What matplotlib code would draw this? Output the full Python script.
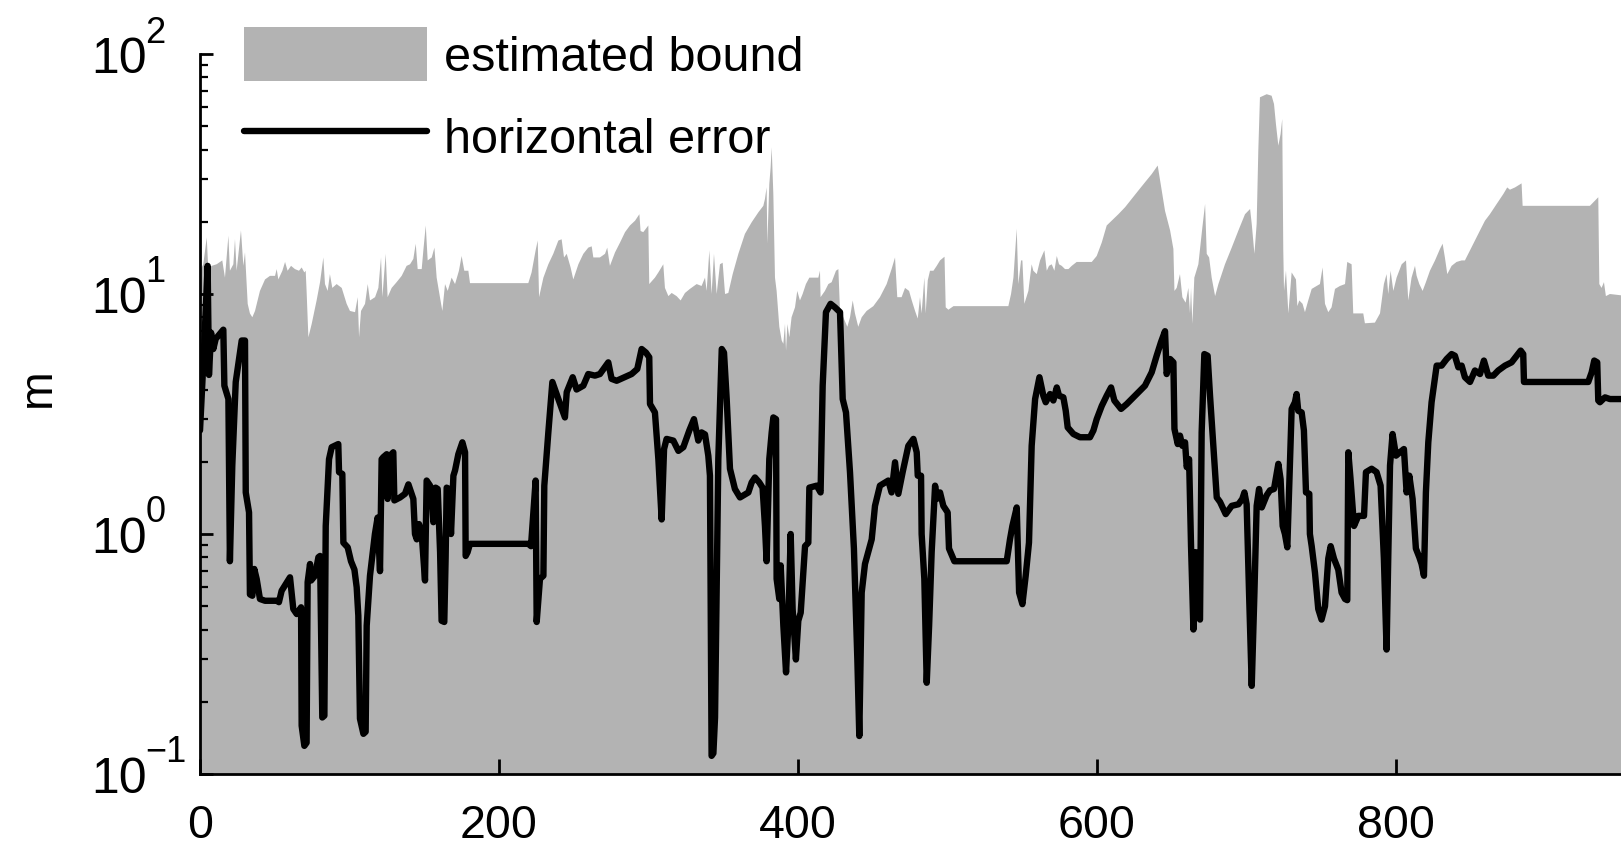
import matplotlib
matplotlib.use("Agg")
import matplotlib.pyplot as plt
from matplotlib.ticker import LogLocator, NullLocator, FixedFormatter, NullFormatter

plt.rcParams["font.family"] = ["Liberation Sans", "DejaVu Sans"]

# estimated error bound (upper edge of the shaded area), metres
bound_x = [0, 2.2, 4.5, 5.6, 7.8, 11.1, 14.9, 16.7, 19, 20, 22.3, 23.4, 24.5, 27.4, 29, 30.1,
           31.9, 33.4, 35, 36.8, 40.1, 43.5, 46.8, 50.2, 51.3, 52.4, 55.1, 56.9, 58.6, 60.9,
           63.5, 66.2, 68, 69.8, 70.7, 71.3, 72.5, 74.7, 78, 80.3, 82.5, 83.6, 85.4, 86.9,
           88.5, 91.4, 94.8, 98.1, 100.3, 103.7, 105.5, 106.4, 107.7, 110.4, 112.2, 113.7,
           117.1, 119.3, 121.1, 122, 124.2, 125.5, 128.2, 131.5, 134.9, 138.2, 140.5, 142.7,
           144.3, 145.6, 148.3, 149.4, 151, 152.3, 155, 156.8, 158.3, 160.5, 162.1, 163.9,
           165.7, 168.3, 170.6, 173.2, 175, 176.8, 179.5, 180.6, 219.6, 221.8, 224.5, 225.9,
           226.8, 229.7, 233, 236.3, 239.7, 241.9, 243.5, 245.3, 247.9, 249.7, 253.1, 256.4,
           259.7, 262, 263.1, 267.5, 270.9, 272.4, 274.2, 277.6, 281, 284.3, 287.6, 291,
           293.9, 294.7, 296.5, 299.9, 300.5, 304.3, 306.6, 309.9, 311, 313.3, 315.5, 318.8,
           321.5, 324.4, 327.7, 332.2, 335.5, 337.8, 338.9, 340.7, 342.2, 343.8, 345.6, 347.8,
           349.6, 351.2, 353.4, 356.3, 360.1, 364.5, 369, 373.5, 376.8, 377.9, 379, 379.5,
           380.8, 381.7, 382.4, 383.5, 384.6, 385.7, 387.5, 389.1, 390.2, 391.3, 392, 392.9,
           394.2, 395.7, 398, 399.5, 401.3, 403.1, 405.3, 407.6, 413.6, 414.7, 415.1, 418,
           420.3, 422.5, 425.4, 427, 428.1, 430.3, 433, 434.8, 436.6, 438.1, 440.3, 442.6,
           445.9, 450.4, 454.8, 459.3, 462.6, 464.9, 466.4, 469.3, 471.6, 474.3, 476.1, 478.3,
           480.1, 481.6, 482.7, 484.5, 485.4, 486.8, 488.3, 490.6, 492.8, 495, 498, 498.8,
           500.6, 504, 540.7, 542.5, 544.1, 546.3, 547.4, 549.2, 550.1, 551.4, 554.1, 556.3,
           557.4, 559.7, 561.9, 564.8, 566.4, 567.9, 569.7, 571.5, 573.1, 574.6, 576.4, 578.6,
           580.9, 583.1, 586.4, 596.5, 599.8, 603.2, 606.5, 609.8, 614.3, 618.8, 623.2, 627.7,
           632.1, 636.6, 640.6, 643.3, 645.5, 648.9, 651.1, 651.8, 653.3, 655.5, 657.1, 659.3,
           661.1, 662.2, 662.9, 663.8, 665.1, 667.8, 670.5, 672.3, 673.4, 675, 676.7, 679,
           681.2, 685.6, 690.1, 694.6, 699, 702.4, 703.5, 705.3, 706.8, 707.9, 709, 713.5,
           716.8, 718.4, 719.7, 721.3, 722.8, 723.9, 724.6, 725.1, 726.4, 728, 730.2, 733.1,
           734, 735.3, 737.5, 739.1, 741.3, 743.6, 746.9, 749.1, 750.9, 752.5, 754.7, 756.9,
           759.2, 762.5, 765.9, 767.4, 770.3, 771.4, 778.1, 779.2, 785.9, 789.3, 791.9, 793.7,
           794.8, 796.4, 798.2, 800.4, 803.8, 806.7, 808.2, 810.4, 812.7, 813.8, 815.6, 817.8,
           820, 822.7, 826.1, 829.4, 831.2, 832.7, 834.3, 837.2, 840.5, 843.9, 846.1, 849.5,
           852.8, 856.2, 859.5, 862.8, 867.3, 871.8, 874.4, 876.2, 879.6, 884, 884.7, 929.7,
           932, 935.3, 936, 937.5, 939.1, 940.4, 943.1, 955]
bound_m = [12.5, 13.3, 17.2, 12.5, 13.1, 13.3, 13.8, 11.7, 17.5, 12.5, 13.3, 16.9, 12.5, 18.4,
           13.1, 14.9, 9.1, 8.3, 8.0, 8.5, 10.3, 11.5, 11.9, 11.9, 12.7, 11.5, 12.5, 13.6, 12.5,
           13.1, 12.7, 12.5, 12.9, 12.3, 12.5, 10.3, 6.6, 7.5, 9.4, 11.2, 14.2, 11.0, 10.3,
           12.1, 10.6, 11.0, 10.6, 9.1, 8.5, 8.4, 9.7, 6.6, 8.5, 9.1, 11.0, 9.4, 9.7, 10.6,
           14.2, 9.7, 14.7, 9.7, 10.6, 11.2, 11.9, 13.1, 13.3, 14.0, 16.2, 12.7, 12.7, 15.2,
           19.3, 13.8, 14.2, 15.6, 11.7, 9.7, 8.5, 11.0, 10.3, 11.7, 11.0, 12.5, 14.4, 12.5,
           12.5, 11.1, 11.1, 12.3, 15.2, 16.7, 9.7, 11.7, 13.3, 14.7, 16.7, 16.9, 14.2, 14.7,
           12.9, 11.5, 13.3, 14.7, 15.6, 15.8, 14.2, 14.2, 14.7, 15.6, 13.1, 14.9, 16.4, 18.1,
           19.3, 20.2, 21.5, 18.3, 18.1, 19.3, 11.0, 11.7, 12.3, 13.3, 10.6, 9.8, 10.1, 9.8,
           9.4, 10.1, 10.5, 11.0, 10.8, 11.7, 10.3, 15.2, 10.0, 14.7, 10.0, 13.3, 13.5, 10.0,
           10.1, 12.1, 14.7, 17.8, 19.9, 21.9, 23.3, 24.9, 27.8, 16.2, 28.7, 33.7, 40.8, 26.1,
           11.7, 10.3, 7.3, 6.4, 6.2, 7.5, 5.8, 7.5, 6.6, 8.0, 8.8, 10.3, 9.4, 10.0, 11.0,
           11.7, 11.7, 12.5, 9.7, 10.3, 11.0, 11.2, 12.5, 12.7, 8.5, 8.0, 7.3, 8.0, 9.4, 8.3,
           7.3, 8.0, 8.5, 8.9, 9.7, 11.0, 12.7, 14.2, 9.7, 9.7, 10.6, 10.3, 9.4, 8.5, 7.9,
           9.7, 8.3, 11.7, 8.3, 11.4, 12.5, 12.5, 13.1, 13.8, 14.3, 8.8, 8.6, 8.9, 8.9, 10.0,
           11.7, 18.7, 11.0, 13.8, 13.8, 9.1, 10.3, 13.3, 12.5, 12.1, 13.8, 15.2, 12.5, 13.1,
           13.3, 12.5, 14.4, 13.3, 13.1, 12.7, 12.7, 13.1, 13.6, 13.6, 14.4, 16.4, 19.3, 20.2,
           21.5, 23.0, 24.9, 27.0, 29.2, 31.6, 34.3, 27.0, 22.2, 18.4, 15.4, 10.3, 10.6, 12.1,
           9.7, 9.2, 10.6, 8.3, 10.6, 7.5, 11.7, 13.3, 19.0, 23.7, 14.7, 14.2, 11.7, 9.8, 11.0,
           13.3, 15.6, 18.4, 21.5, 22.6, 19.6, 14.7, 19.6, 39.6, 66, 68, 67, 61.9, 51, 41.5,
           46.4, 53.6, 15.2, 10.3, 12.5, 8.3, 12.3, 11.5, 8.9, 9.4, 9.1, 8.4, 9.4, 10.5, 10.8,
           11.0, 12.9, 9.1, 8.4, 8.8, 10.5, 10.8, 11.0, 13.6, 13.3, 8.3, 8.3, 7.55, 7.6, 8.3,
           11.0, 12.1, 10.0, 12.5, 10.3, 11.7, 13.3, 13.8, 9.4, 11.7, 13.1, 11.9, 11.0, 10.3,
           11.2, 12.5, 13.8, 15.4, 16.2, 14.2, 12.1, 13.1, 13.6, 13.8, 13.8, 15.2, 16.7, 18.4,
           20.2, 21.5, 23.7, 26.1, 27.8, 27.2, 27.8, 28.9, 23.3, 23.3, 24.1, 25.3, 11.0, 10.6,
           11.2, 9.8, 10.0, 9.8]

# measured horizontal position error, metres
err_x = [0, 2.9, 5.1, 6.0, 7.4, 8.9, 10.5, 15.6, 16.3, 19, 20, 21.6, 23.9, 27.9, 30.1, 30.6,
         32.8, 33.4, 35, 36.3, 37.9, 40.1, 43.5, 51.3, 52.8, 54.6, 60.2, 62.4, 64.7, 67.6, 68,
         69.8, 71.3, 72, 73.6, 74.3, 76.9, 79.2, 80.3, 81.8, 83.2, 84.1, 86.3, 88.1, 92.5, 93,
         95.2, 95.9, 98.8, 101, 103.3, 104.8, 105.9, 107, 109.3, 110.8, 111.5, 113.7, 117,
         118.8, 120.4, 121.5, 122.6, 124.9, 125.5, 127.1, 129.3, 130, 133.8, 137.1, 139.4,
         142.7, 143.8, 145, 146.5, 148.3, 150.5, 151.6, 153.9, 155, 156.1, 157.6, 159, 160.6,
         161.6, 163.4, 164.3, 165, 166.6, 167.9, 169.5, 170.6, 172.8, 175.5, 177.3, 177.7,
         179, 180.6, 219.6, 221.4, 224.5, 225.2, 227.4, 229.7, 230.3, 233, 235.7, 239.7,
         244.1, 245.3, 249.3, 251.9, 256.4, 259.7, 264.2, 267.5, 273.1, 275.3, 278.7, 288.7,
         292.5, 295.4, 298.3, 300.5, 301, 304.3, 306.6, 308.8, 310.4, 312.1, 316.6, 320,
         323.3, 327.3, 330.4, 333.3, 335.5, 337.8, 340, 341.1, 342.2, 343.4, 344.5, 346.7,
         349, 350.5, 352.3, 354.5, 357.8, 361.2, 366.8, 369, 371.2, 374.1, 376.3, 377.9, 379,
         380.8, 382.4, 383.5, 385.3, 385.7, 387.5, 388.4, 390.2, 392, 393.5, 395.1, 396.4,
         398.6, 400.2, 401.8, 404.7, 406.9, 407.6, 412.5, 415.1, 416.5, 418.7, 421.8, 424.7,
         428.1, 429.9, 432.1, 434.8, 437.4, 439.7, 441, 442.6, 444.8, 449.3, 451.5, 454.8,
         460.4, 462.6, 464.9, 467.1, 470, 473.8, 477.2, 479.4, 480.1, 482.3, 482.7, 484.5,
         486.1, 487.7, 489.4, 491.7, 492.8, 495, 497.2, 500.1, 501, 504.6, 539.6, 541.8,
         543.4, 546.3, 547.9, 550.1, 552.3, 554.5, 556.3, 558.6, 561.5, 564.1, 565.7, 568.6,
         570.8, 573.1, 574.6, 577.5, 579.1, 580.4, 584.2, 588.6, 595.3, 597.6, 599.8, 603.2,
         606.5, 609.4, 611.6, 616.1, 619.9, 624.3, 628.8, 632.1, 636.6, 639.9, 642.8, 645.5,
         646.6, 648.9, 651.1, 651.8, 654, 655.5, 657.1, 658.9, 660, 661.6, 662.9, 664.5, 666,
         667.4, 668.9, 670, 671.8, 674, 675.6, 677.8, 680.1, 682.3, 686.1, 690.1, 694.6,
         697.2, 698.6, 700.1, 701.7, 703.5, 705.3, 706.8, 708.4, 710.2, 713.5, 715.7, 718.4,
         721.3, 722.8, 724.2, 725.7, 727.3, 728.6, 730.2, 732.4, 733.5, 734.6, 736.9, 738.4,
         739.8, 742, 742.4, 743.6, 745.8, 748, 750.2, 752.5, 754.7, 756.3, 758.5, 761.4,
         763.6, 765.9, 767.4, 768.1, 769.6, 771.9, 774.8, 778.6, 779.9, 783.7, 787, 789.7,
         791.9, 793.7, 794.8, 796, 797.7, 800, 802.6, 805.3, 807.1, 808.9, 811.1, 813.3,
         815.6, 817.1, 818.7, 820, 821.6, 823.8, 827.2, 830.5, 833.9, 837.2, 839.4, 841.7,
         843.9, 846.1, 849.5, 852.8, 856.2, 858.8, 861.7, 865.1, 868.4, 872.9, 877.3, 880.7,
         883.4, 885.1, 885.6, 928.6, 930.9, 932.6, 934.6, 935.3, 936.4, 939.8, 943.1, 955]
err_m = [2.7, 6.3, 13.1, 4.6, 6.9, 5.9, 6.5, 7.1, 4.15, 3.65, 0.77, 1.93, 4.3, 6.4, 6.4, 1.49,
         1.23, 0.56, 0.553, 0.715, 0.65, 0.536, 0.527, 0.527, 0.52, 0.58, 0.66, 0.487, 0.464,
         0.495, 0.159, 0.131, 0.135, 0.63, 0.75, 0.64, 0.67, 0.80, 0.81, 0.172, 0.175, 1.08,
         2.05, 2.3, 2.37, 1.81, 1.78, 0.92, 0.88, 0.77, 0.71, 0.60, 0.457, 0.17, 0.147, 0.15,
         0.415, 0.67, 1.0, 1.17, 0.70, 2.05, 2.09, 2.15, 1.40, 2.12, 2.19, 1.38, 1.42, 1.47,
         1.61, 1.40, 1.0, 0.95, 1.10, 1.0, 0.64, 1.67, 1.59, 1.47, 1.12, 1.56, 1.54, 0.84,
         0.435, 0.43, 0.80, 1.56, 1.54, 1.0, 1.75, 1.84, 2.15, 2.41, 2.19, 0.81, 0.84, 0.91,
         0.91, 0.89, 1.67, 0.43, 0.65, 0.67, 1.59, 2.65, 4.3, 3.65, 3.06, 3.9, 4.5, 4.0, 4.15,
         4.64, 4.57, 4.64, 5.19, 4.43, 4.35, 4.64, 4.87, 5.9, 5.7, 5.45, 3.48, 3.21, 2.05,
         1.15, 2.26, 2.49, 2.45, 2.22, 2.3, 2.7, 3.01, 2.45, 2.65, 2.6, 2.12, 1.75, 0.119,
         0.122, 0.172, 2.05, 5.9, 5.7, 3.65, 1.87, 1.54, 1.42, 1.49, 1.64, 1.72, 1.64, 1.56,
         1.08, 0.77, 2.05, 2.65, 3.06, 3.01, 0.65, 0.536, 0.74, 0.415, 0.265, 0.415, 1.0,
         0.487, 0.30, 0.435, 0.47, 0.89, 0.92, 1.56, 1.59, 1.49, 4.15, 8.4, 9.1, 8.8, 8.4,
         3.65, 3.21, 1.8, 0.87, 0.30, 0.144, 0.57, 0.75, 0.95, 1.31, 1.59, 1.67, 1.49, 1.99,
         1.47, 1.81, 2.33, 2.49, 2.19, 1.75, 1.75, 1.0, 0.65, 0.24, 0.415, 0.84, 1.59, 1.40,
         1.49, 1.31, 1.23, 0.87, 0.77, 0.77, 0.95, 1.08, 1.29, 0.57, 0.51, 0.67, 0.92, 2.33,
         3.65, 4.5, 3.77, 3.54, 3.83, 3.6, 4.08, 3.77, 3.71, 3.26, 2.78, 2.61, 2.53, 2.53,
         2.7, 3.01, 3.42, 3.77, 4.08, 3.6, 3.32, 3.48, 3.71, 3.96, 4.15, 4.72, 5.53, 6.3,
         7.0, 4.64, 5.36, 5.19, 2.74, 2.37, 2.57, 2.33, 2.41, 1.9, 2.05, 0.89, 0.40, 0.84,
         0.457, 0.44, 2.65, 5.62, 5.53, 3.77, 2.33, 1.42, 1.36, 1.21, 1.31, 1.33, 1.40, 1.49,
         1.33, 0.57, 0.233, 0.57, 1.31, 1.54, 1.29, 1.45, 1.52, 1.54, 1.96, 1.69, 1.08, 1.0,
         0.88, 1.59, 3.32, 3.54, 3.83, 3.26, 3.21, 2.7, 1.49, 1.47, 1.0, 0.89, 0.69, 0.487,
         0.44, 0.50, 0.79, 0.89, 0.79, 0.71, 0.57, 0.536, 0.53, 2.19, 1.69, 1.08, 1.19, 1.19,
         1.81, 1.87, 1.81, 1.59, 0.79, 0.33, 0.79, 1.93, 2.61, 2.12, 2.19, 2.26, 1.49, 1.75,
         1.40, 0.87, 0.80, 0.75, 0.67, 1.49, 2.41, 3.54, 5.03, 5.03, 5.36, 5.62, 5.53, 4.95,
         5.03, 4.5, 4.3, 4.8, 4.64, 5.28, 4.57, 4.57, 4.8, 5.03, 5.19, 5.53, 5.81, 5.62, 4.3,
         4.3, 4.72, 5.28, 5.19, 3.6, 3.54, 3.71, 3.65, 3.65]

x_ticks = [0, 200, 400, 600, 800]
y_ticks = [0.1, 1, 10, 100]
y_tick_base = "10"
y_tick_exponents = ["\u22121", "0", "1", "2"]
legend_labels = ["estimated bound", "horizontal error"]
y_label = "m"

W, H = 1621, 845
fig = plt.figure(figsize=(W / 100, H / 100), dpi=100)
ax = fig.add_axes([200 / W, 70 / H, 1495 / W, 720 / H])

ax.fill_between(bound_x, bound_m, 1e-3, color="#b3b3b3", lw=0, zorder=1,
                label=legend_labels[0])
ax.plot(err_x, err_m, color="black", lw=4.6, solid_joinstyle="round",
        solid_capstyle="round", zorder=2, label=legend_labels[1])

ax.set_yscale("log")
ax.set_ylim(0.1, 100)
ax.set_xlim(0, 1000)
ax.set_xticks(x_ticks)
ax.xaxis.set_minor_locator(NullLocator())
ax.set_yticks(y_ticks)
ax.yaxis.set_major_formatter(FixedFormatter([y_tick_base] * len(y_ticks)))
ax.yaxis.set_minor_locator(LogLocator(base=10, subs=range(2, 10)))
ax.yaxis.set_minor_formatter(NullFormatter())

for side in ("top", "right"):
    ax.spines[side].set_visible(False)
for side in ("left", "bottom"):
    ax.spines[side].set_linewidth(2.0)
    ax.spines[side].set_zorder(3)

ax.tick_params(axis="both", which="major", direction="in", width=2.0,
               colors="black")
ax.tick_params(axis="x", which="major", length=10.5, pad=21, labelsize=33.5)
ax.tick_params(axis="y", which="major", length=9.5, pad=38, labelsize=36)
ax.tick_params(axis="y", which="minor", direction="in", length=5.5, width=1.6)

# exponents of the decade labels, set as raised text after each "10"
for val, exp in zip(y_ticks, y_tick_exponents):
    ax.annotate(exp, xy=(0, val), xycoords=ax.get_yaxis_transform(),
                xytext=(-39.5, 9.0), textcoords="offset points",
                ha="left", va="baseline", fontsize=26, annotation_clip=False)

fig.text(60 / W, 1 - 388 / H, y_label, rotation=90, ha="right", va="center",
         fontsize=33.5)

ax.legend(loc="upper left", bbox_to_anchor=(244 / W, 1 - 28 / H),
          bbox_transform=fig.transFigure, frameon=False, fontsize=35,
          borderpad=0, borderaxespad=0, handlelength=3.77, handleheight=1.32,
          handletextpad=0.35, labelspacing=0.585)

fig.savefig("out.png", dpi=100)
